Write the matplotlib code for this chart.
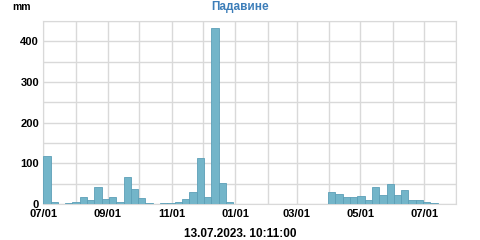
import datetime as dt
import numpy as np
import matplotlib
matplotlib.use('Agg')
import matplotlib.pyplot as plt
import matplotlib.dates as mdates
from matplotlib.ticker import MultipleLocator

# weekly rainfall, starting 2022-07-01
start = dt.date(2022, 7, 1)
rain = [118, 4, 1, 2, 5, 16, 9, 43, 12, 17, 5, 66, 36, 15, 2, 1, 2, 2, 4, 12,
        29, 114, 16, 433, 52, 6,
        0, 0, 0, 0, 0, 0, 0.5, 0, 0.5, 0, 0, 0.5, 0,
        29, 25, 16, 16, 19, 11, 41, 21, 49, 21, 34, 10, 11, 4, 2]
weeks = [start + dt.timedelta(days=7 * i) for i in range(len(rain))]

title = "Падавине"
unit = "mm"
stamp = "13.07.2023. 10:11:00"

plt.rcParams['font.family'] = ['Liberation Sans', 'DejaVu Sans']

fig = plt.figure(figsize=(4.8, 2.4), dpi=100)
ax = fig.add_axes([0.090, 0.150, 0.861, 0.7625])

ax.bar(mdates.date2num(weeks), rain, width=7, align='edge',
       color='#73b5c9', edgecolor='#5c9fb7', linewidth=0.6, zorder=3)

ax.set_xlim(mdates.date2num(dt.date(2022, 7, 1)), mdates.date2num(dt.date(2023, 8, 1)))
ax.set_ylim(0, 450)

ax.xaxis.set_major_locator(mdates.MonthLocator(bymonth=[1, 3, 5, 7, 9, 11]))
ax.xaxis.set_major_formatter(mdates.DateFormatter('%m/%d'))
ax.xaxis.set_minor_locator(mdates.MonthLocator())
ax.yaxis.set_major_locator(MultipleLocator(100))
ax.yaxis.set_minor_locator(MultipleLocator(50))

ax.grid(which='both', color='#d9d9d9', linewidth=1, zorder=0)
for s in ax.spines.values():
    s.set_color('#d9d9d9')
ax.tick_params(axis='y', which='both', length=0, pad=3)
ax.tick_params(axis='x', which='both', length=0, pad=3.5)
for tl in ax.get_xticklabels() + ax.get_yticklabels():
    tl.set_fontsize(8)
    tl.set_fontweight('bold')

fig.text(0.5, 0.972, title, ha='center', va='center', color='#3d7eb9',
         fontsize=8.5, fontweight='bold')
fig.text(0.025, 0.972, unit, ha='left', va='center', fontsize=7.5, fontweight='bold')
fig.text(0.5, 0.025, stamp, ha='center', va='center', fontsize=8.5, fontweight='bold')

fig.savefig('out.png', dpi=100)
